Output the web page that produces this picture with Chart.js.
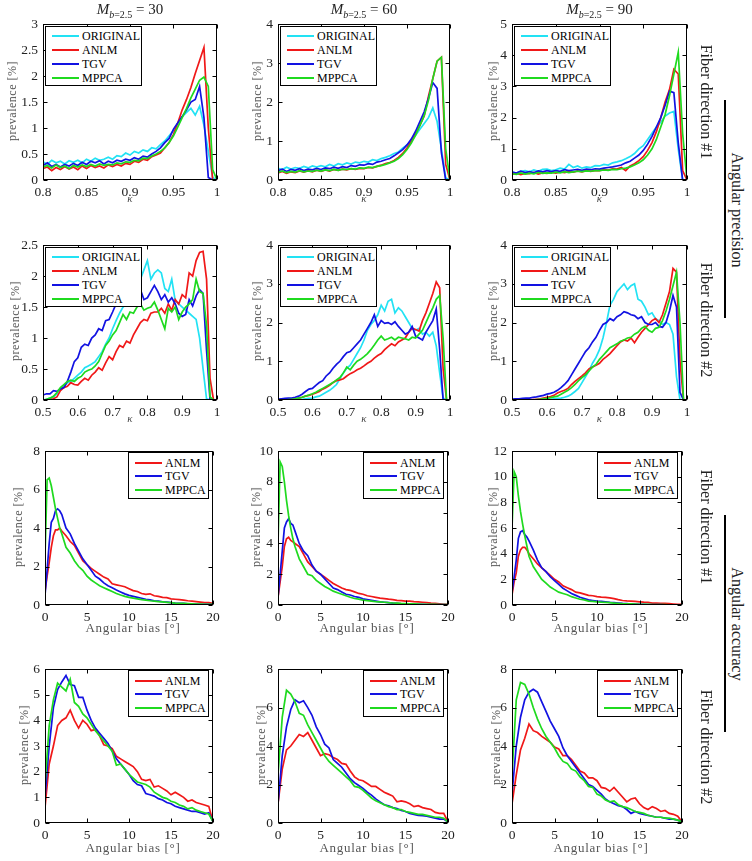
<!DOCTYPE html>
<html><head><meta charset="utf-8">
<script src="https://cdn.jsdelivr.net/npm/chart.js@4.4.1/dist/chart.umd.min.js"></script>
<style>
html,body{margin:0;padding:0;background:#fff;}
body{width:752px;height:861px;position:relative;overflow:hidden;font-family:"Liberation Serif","Times New Roman",serif;}
canvas{position:absolute;}
.t{position:absolute;white-space:nowrap;line-height:1;}
.legend{position:absolute;background:#fff;border:1px solid #000;box-sizing:border-box;font-size:12px;color:#000;}
.legend .row{position:absolute;left:0;height:14px;line-height:14px;white-space:nowrap;width:100%;}
.legend .sw{position:absolute;left:6px;top:6px;width:27px;height:2px;}
.legend .tx{position:absolute;left:36px;top:0;}
.vline{position:absolute;width:1.5px;background:#000;}
</style></head><body>
<script>
// ---------------- DATA ----------------
const SERIES_NAMES = ['ORIGINAL','ANLM','TGV','MPPCA'];
const SERIES_COLORS = ['#22e2f4','#f01818','#1212e2','#1fda1f'];

const KAPPA_FINE = [0.800,0.805,0.810,0.815,0.820,0.825,0.830,0.835,0.840,0.845,0.850,0.855,0.860,0.865,0.870,0.875,0.880,0.885,0.890,0.895,0.900,0.905,0.910,0.915,0.920,0.925,0.930,0.935,0.940,0.945,0.950,0.955,0.960,0.965,0.970,0.975,0.980,0.985,0.990,0.995,1.000];
const KAPPA_WIDE = [0.50,0.51,0.52,0.53,0.54,0.55,0.56,0.57,0.58,0.59,0.60,0.61,0.62,0.63,0.64,0.65,0.66,0.67,0.68,0.69,0.70,0.71,0.72,0.73,0.74,0.75,0.76,0.77,0.78,0.79,0.80,0.81,0.82,0.83,0.84,0.85,0.86,0.87,0.88,0.89,0.90,0.91,0.92,0.93,0.94,0.95,0.96,0.97,0.98,0.99,1.00];
const BIAS_DIR1 = [0,0.25,0.5,0.75,1,1.25,1.5,1.75,2,2.5,3,3.5,4,4.5,5,5.5,6,6.5,7,7.5,8,8.5,9,9.5,10,10.5,11,11.5,12,12.5,13,13.5,14,14.5,15,15.5,16,16.5,17,17.5,18,18.5,19,19.5,20];
const BIAS_DIR2 = [0,0.5,1,1.5,2,2.5,3,3.5,4,4.5,5,5.5,6,6.5,7,7.5,8,8.5,9,9.5,10,10.5,11,11.5,12,12.5,13,13.5,14,14.5,15,15.5,16,16.5,17,17.5,18,18.5,19,19.5,20];

// Row 1: angular precision, fiber direction #1
const P1_ORIGINAL = [0.35,0.30,0.38,0.33,0.36,0.31,0.37,0.34,0.38,0.33,0.40,0.36,0.42,0.38,0.40,0.44,0.40,0.47,0.45,0.52,0.48,0.55,0.52,0.58,0.55,0.62,0.60,0.68,0.75,0.85,0.95,1.10,1.22,1.30,1.38,1.25,1.42,1.05,0.55,0.05,0];
const P1_ANLM = [0.22,0.25,0.18,0.24,0.20,0.26,0.21,0.25,0.20,0.27,0.22,0.28,0.24,0.27,0.23,0.29,0.26,0.30,0.27,0.32,0.30,0.36,0.34,0.40,0.38,0.45,0.48,0.52,0.62,0.72,0.88,1.10,1.35,1.55,1.78,2.05,2.30,2.55,1.00,0,0];
const P1_TGV = [0.28,0.33,0.26,0.30,0.25,0.30,0.27,0.32,0.28,0.34,0.30,0.36,0.33,0.37,0.31,0.36,0.33,0.38,0.36,0.40,0.38,0.43,0.40,0.46,0.44,0.50,0.55,0.62,0.72,0.80,0.98,1.10,1.22,1.35,1.50,1.55,1.80,1.20,0.05,0,0];
const P1_MPPCA = [0.25,0.28,0.23,0.29,0.24,0.27,0.22,0.28,0.25,0.29,0.26,0.30,0.27,0.31,0.28,0.30,0.29,0.33,0.31,0.35,0.34,0.38,0.37,0.42,0.41,0.46,0.50,0.55,0.62,0.72,0.85,1.02,1.20,1.38,1.58,1.75,1.92,1.98,1.80,0.20,0];

const P2_ORIGINAL = [0.30,0.27,0.33,0.28,0.32,0.30,0.35,0.31,0.36,0.33,0.37,0.34,0.40,0.36,0.42,0.39,0.44,0.41,0.46,0.44,0.48,0.46,0.52,0.50,0.55,0.58,0.62,0.68,0.72,0.82,0.90,1.00,1.15,1.30,1.45,1.60,1.85,1.50,0.80,0.05,0];
const P2_ANLM = [0.18,0.22,0.17,0.21,0.19,0.23,0.20,0.24,0.21,0.25,0.22,0.26,0.23,0.27,0.25,0.28,0.26,0.29,0.27,0.30,0.29,0.32,0.31,0.35,0.38,0.42,0.45,0.50,0.58,0.68,0.82,1.00,1.20,1.40,1.65,2.15,2.60,3.05,3.15,0.40,0];
const P2_TGV = [0.24,0.28,0.22,0.27,0.25,0.29,0.24,0.28,0.26,0.30,0.27,0.31,0.29,0.33,0.30,0.34,0.32,0.37,0.35,0.39,0.38,0.42,0.40,0.46,0.48,0.52,0.55,0.62,0.70,0.78,0.90,1.05,1.25,1.50,1.75,2.10,2.50,2.35,0.70,0,0];
const P2_MPPCA = [0.20,0.23,0.19,0.22,0.20,0.24,0.21,0.23,0.22,0.25,0.23,0.26,0.24,0.27,0.25,0.28,0.27,0.29,0.28,0.31,0.30,0.33,0.32,0.35,0.37,0.40,0.44,0.48,0.55,0.65,0.78,0.95,1.15,1.40,1.65,2.05,2.60,3.05,3.15,0.80,0];

const P3_ORIGINAL = [0.25,0.22,0.28,0.30,0.26,0.32,0.28,0.34,0.35,0.30,0.33,0.38,0.35,0.50,0.40,0.45,0.38,0.42,0.40,0.46,0.45,0.50,0.48,0.55,0.58,0.62,0.68,0.75,0.85,1.00,1.10,1.30,1.50,1.70,1.85,2.05,2.15,2.20,1.00,0,0];
const P3_ANLM = [0.18,0.22,0.17,0.21,0.20,0.24,0.19,0.23,0.21,0.25,0.22,0.26,0.24,0.27,0.25,0.29,0.26,0.30,0.28,0.31,0.30,0.33,0.32,0.36,0.35,0.40,0.30,0.45,0.52,0.62,0.75,0.95,1.20,1.55,2.00,2.50,2.90,3.55,3.40,0.30,0];
const P3_TGV = [0.25,0.22,0.28,0.24,0.27,0.23,0.29,0.26,0.30,0.27,0.30,0.28,0.33,0.30,0.32,0.34,0.31,0.35,0.33,0.36,0.35,0.38,0.40,0.42,0.45,0.48,0.55,0.60,0.70,0.80,0.95,1.15,1.40,1.70,2.00,2.40,2.85,2.80,1.20,0,0];
const P3_MPPCA = [0.20,0.18,0.23,0.19,0.22,0.20,0.24,0.21,0.23,0.22,0.25,0.23,0.27,0.24,0.26,0.28,0.27,0.29,0.28,0.30,0.30,0.32,0.31,0.34,0.33,0.36,0.38,0.42,0.48,0.55,0.65,0.80,1.00,1.30,1.70,2.10,2.70,3.40,4.10,1.50,0];

// Row 2: angular precision, fiber direction #2
const P4_ORIGINAL = [0,0.01,0.03,0.05,0.10,0.18,0.22,0.28,0.30,0.35,0.40,0.45,0.52,0.55,0.58,0.62,0.70,0.78,0.90,1.00,1.15,1.28,1.40,1.50,1.55,1.65,1.85,2.00,1.95,2.10,2.25,1.95,2.05,2.10,2.05,1.80,1.75,1.95,1.60,1.55,1.50,1.45,1.40,1.35,1.30,1.00,0.50,0.02,0,0,0];
const P4_ANLM = [0,0,0.01,0.02,0.05,0.15,0.20,0.22,0.28,0.25,0.24,0.30,0.35,0.32,0.40,0.45,0.52,0.48,0.60,0.70,0.65,0.78,0.88,0.85,0.95,0.92,1.05,1.15,1.25,1.30,1.28,1.40,1.42,1.42,1.48,1.40,1.55,1.45,1.62,1.55,1.70,1.65,2.05,2.00,2.25,2.38,2.40,1.95,0.35,0,0];
const P4_TGV = [0.08,0.10,0.10,0.15,0.14,0.18,0.20,0.30,0.45,0.62,0.68,0.85,0.90,0.88,1.00,1.05,1.15,1.12,1.28,1.30,1.42,1.55,1.60,1.75,1.70,1.80,1.85,1.72,1.78,1.62,1.65,1.75,1.85,1.75,1.62,1.70,1.58,1.65,1.55,1.40,1.35,1.38,1.62,1.52,1.68,1.78,1.72,0.80,0,0,0];
const P4_MPPCA = [0,0.01,0.03,0.06,0.12,0.20,0.25,0.30,0.32,0.30,0.35,0.38,0.45,0.48,0.50,0.55,0.62,0.75,0.88,0.95,1.05,1.12,1.25,1.38,1.30,1.42,1.40,1.50,1.55,1.45,1.48,1.50,1.58,1.45,1.30,1.15,1.48,1.42,1.50,1.30,1.42,1.50,1.55,1.62,1.95,1.75,1.72,1.20,0.05,0,0];

const P5_ORIGINAL = [0,0,0,0,0,0.01,0.01,0.02,0.03,0.04,0.05,0.08,0.10,0.15,0.20,0.25,0.32,0.40,0.55,0.70,0.82,0.90,1.05,1.20,1.35,1.55,1.80,1.95,2.05,2.20,2.45,2.30,2.55,2.60,2.25,2.38,2.30,2.15,2.00,1.85,1.80,1.85,1.70,1.75,1.65,1.75,1.40,0.70,0.05,0,0];
const P5_ANLM = [0,0,0,0.01,0.02,0.03,0.05,0.07,0.10,0.12,0.15,0.18,0.22,0.28,0.32,0.38,0.45,0.50,0.52,0.55,0.62,0.68,0.72,0.78,0.82,0.88,0.95,1.00,1.08,1.15,1.20,1.30,1.38,1.45,1.40,1.50,1.55,1.60,1.75,1.85,1.82,1.78,2.05,2.25,2.50,2.75,3.05,2.90,0.80,0,0];
const P5_TGV = [0.02,0.03,0.04,0.05,0.05,0.07,0.10,0.15,0.22,0.28,0.30,0.38,0.45,0.50,0.62,0.70,0.82,0.92,1.00,1.12,1.22,1.25,1.35,1.45,1.55,1.70,1.85,2.00,2.20,1.90,2.05,1.98,2.00,1.95,2.02,1.90,1.80,1.70,1.75,1.90,1.65,1.60,1.55,1.75,1.90,2.05,2.35,1.30,0,0,0];
const P5_MPPCA = [0,0,0,0.01,0.02,0.03,0.05,0.07,0.10,0.13,0.16,0.20,0.25,0.30,0.35,0.40,0.45,0.52,0.58,0.70,0.85,0.78,0.90,1.00,1.05,1.12,1.20,1.30,1.42,1.55,1.65,1.55,1.58,1.62,1.55,1.62,1.60,1.58,1.55,1.62,1.60,1.70,1.80,2.00,2.20,2.38,2.60,2.70,1.60,0,0];

const P6_ORIGINAL = [0,0,0,0,0,0,0,0,0.01,0.01,0.02,0.02,0.03,0.04,0.05,0.07,0.10,0.15,0.22,0.30,0.45,0.60,0.75,0.95,1.10,1.30,1.60,2.00,2.45,2.60,2.80,2.90,3.00,2.85,2.95,3.00,2.60,2.55,2.40,2.20,2.25,2.10,2.05,1.95,2.00,1.95,1.70,0.60,0,0,0];
const P6_ANLM = [0,0,0,0,0,0.01,0.01,0.02,0.03,0.05,0.07,0.09,0.12,0.18,0.22,0.25,0.30,0.40,0.48,0.55,0.62,0.70,0.80,0.85,0.90,0.95,1.05,1.12,1.20,1.30,1.40,1.50,1.55,1.52,1.60,1.48,1.62,1.75,1.85,1.95,2.05,2.10,2.00,2.20,2.50,2.80,3.40,3.30,1.00,0,0];
const P6_TGV = [0.02,0.03,0.03,0.04,0.05,0.05,0.07,0.08,0.10,0.12,0.15,0.17,0.20,0.25,0.32,0.40,0.50,0.65,0.80,0.95,1.10,1.25,1.35,1.50,1.62,1.80,1.95,2.00,2.10,2.05,2.15,2.20,2.28,2.25,2.20,2.18,2.10,2.15,2.00,1.95,1.95,2.00,1.90,1.88,2.00,2.30,2.70,2.40,0.20,0,0];
const P6_MPPCA = [0,0,0,0,0,0,0,0.01,0.02,0.03,0.04,0.06,0.08,0.10,0.15,0.20,0.25,0.32,0.40,0.50,0.58,0.65,0.75,0.85,0.92,1.05,1.15,1.25,1.35,1.40,1.45,1.52,1.55,1.60,1.62,1.70,1.75,1.85,1.90,1.80,1.75,1.85,1.88,2.05,2.30,2.60,2.95,3.30,2.00,0,0];

// Row 3: angular accuracy, fiber direction #1
const P7_ANLM = [0.7,1.5,2.2,3.0,3.6,3.9,3.9,4.0,3.85,3.6,3.3,3.1,2.7,2.3,2.1,1.9,1.75,1.6,1.45,1.35,1.1,1.05,1.0,0.95,0.85,0.75,0.7,0.6,0.55,0.58,0.48,0.45,0.4,0.38,0.32,0.3,0.28,0.25,0.22,0.2,0.18,0.15,0.12,0.12,0.08];
const P7_TGV = [0.5,1.8,3.2,4.3,4.5,4.9,5.0,4.9,4.7,4.0,3.7,3.2,2.8,2.4,2.1,1.8,1.5,1.35,1.15,1.0,0.9,0.78,0.68,0.58,0.5,0.45,0.4,0.35,0.3,0.27,0.22,0.2,0.17,0.15,0.12,0.1,0.09,0.08,0.06,0.05,0.05,0.04,0.03,0.03,0.02];
const P7_MPPCA = [2.5,6.5,6.6,6.2,5.6,5.0,4.5,4.0,3.7,3.0,2.7,2.3,2.0,1.8,1.5,1.3,1.15,1.0,0.9,0.8,0.7,0.6,0.52,0.45,0.4,0.36,0.32,0.28,0.25,0.22,0.2,0.18,0.16,0.14,0.12,0.1,0.09,0.08,0.07,0.06,0.05,0.05,0.04,0.04,0.03];

const P8_ANLM = [0.5,1.5,2.5,3.8,4.3,4.4,4.2,4.1,4.0,3.8,3.3,2.8,2.5,2.2,2.0,1.8,1.6,1.4,1.25,1.1,1.0,0.95,0.85,0.75,0.7,0.6,0.55,0.5,0.45,0.42,0.38,0.35,0.3,0.28,0.25,0.25,0.22,0.2,0.18,0.15,0.12,0.1,0.08,0.05,0.04];
const P8_TGV = [0.5,2.0,3.5,5.0,5.4,5.6,5.3,5.2,4.8,4.0,3.5,3.2,2.6,2.2,2.0,1.7,1.4,1.1,1.0,0.85,0.7,0.65,0.55,0.5,0.4,0.35,0.3,0.25,0.2,0.18,0.15,0.12,0.1,0.08,0.07,0.06,0.05,0.04,0.04,0.03,0.03,0.02,0.02,0.02,0.01];
const P8_MPPCA = [4.0,9.3,9.0,8.0,6.8,5.8,5.0,4.3,3.8,3.0,2.5,2.0,1.9,1.6,1.4,1.2,1.05,0.9,0.8,0.7,0.6,0.5,0.42,0.38,0.32,0.28,0.25,0.22,0.2,0.18,0.15,0.13,0.12,0.1,0.09,0.08,0.07,0.06,0.05,0.05,0.04,0.04,0.03,0.03,0.02];

const P9_ANLM = [0.8,1.8,2.5,3.8,4.3,4.5,4.5,4.3,4.0,3.6,3.2,2.9,2.6,2.3,2.0,1.8,1.5,1.35,1.2,1.0,0.95,0.85,0.75,0.72,0.65,0.62,0.6,0.55,0.5,0.42,0.35,0.32,0.3,0.28,0.25,0.22,0.2,0.15,0.15,0.12,0.12,0.1,0.08,0.06,0.05];
const P9_TGV = [1.0,2.2,3.5,5.2,5.7,5.8,5.5,5.3,5.0,4.3,3.5,2.9,2.6,2.2,1.9,1.6,1.3,1.1,0.9,0.75,0.6,0.5,0.4,0.35,0.3,0.28,0.25,0.2,0.18,0.15,0.12,0.1,0.08,0.07,0.06,0.05,0.04,0.04,0.03,0.03,0.02,0.02,0.02,0.01,0.01];
const P9_MPPCA = [6.0,10.4,10.0,8.5,7.3,6.3,5.4,4.6,3.8,3.0,2.5,2.0,1.7,1.4,1.2,1.0,0.9,0.8,0.65,0.55,0.45,0.4,0.3,0.28,0.25,0.22,0.2,0.18,0.15,0.12,0.1,0.09,0.08,0.07,0.06,0.05,0.05,0.04,0.04,0.03,0.03,0.02,0.02,0.02,0.02];

// Row 4: angular accuracy, fiber direction #2
const P10_ANLM = [0.6,2.3,3.0,3.8,4.0,4.1,4.4,4.0,3.7,4.0,3.85,3.6,3.65,3.4,3.05,3.0,2.9,2.6,2.5,2.4,2.3,2.2,2.0,1.7,1.65,1.7,1.4,1.45,1.35,1.25,1.1,1.2,1.1,1.0,0.85,0.9,0.8,0.75,0.7,0.65,0.05];
const P10_TGV = [1.0,3.0,4.5,5.2,5.5,5.75,5.4,5.35,4.9,4.9,4.4,4.0,3.7,3.5,3.3,3.1,2.8,2.5,2.3,2.1,1.9,1.65,1.5,1.45,1.15,1.1,1.05,0.95,0.9,0.8,0.75,0.65,0.6,0.55,0.5,0.45,0.45,0.4,0.35,0.4,0.05];
const P10_MPPCA = [1.5,3.8,4.8,5.45,5.3,5.15,5.6,4.7,4.55,4.25,4.1,3.85,3.6,3.4,3.2,3.0,2.8,2.25,2.3,2.1,1.9,1.75,1.6,1.55,1.5,1.4,1.2,1.1,1.0,0.95,0.85,0.8,0.7,0.65,0.55,0.6,0.5,0.45,0.4,0.35,0.05];

const P11_ANLM = [1.0,2.8,3.8,4.0,4.3,4.6,4.5,4.7,4.3,3.9,3.5,3.6,3.55,3.4,3.3,3.1,3.05,2.7,2.4,2.25,2.2,2.05,1.9,1.9,1.75,1.6,1.5,1.4,1.1,1.15,1.1,1.0,0.85,0.9,0.8,0.75,0.7,0.55,0.5,0.5,0.05];
const P11_TGV = [1.0,3.5,5.0,5.9,6.4,6.25,6.35,6.0,5.6,5.0,4.6,4.1,3.9,3.3,3.1,2.9,2.6,2.3,2.1,1.95,1.8,1.6,1.45,1.25,1.1,0.95,0.9,0.8,0.75,0.65,0.6,0.5,0.45,0.4,0.38,0.35,0.3,0.25,0.2,0.2,0.05];
const P11_MPPCA = [2.5,5.5,6.9,6.7,6.3,5.7,5.6,5.1,4.7,4.3,3.9,3.5,3.2,3.0,2.8,2.6,2.4,2.2,1.9,1.85,1.7,1.5,1.3,1.15,1.05,0.95,0.85,0.8,0.7,0.7,0.6,0.55,0.5,0.45,0.45,0.4,0.35,0.3,0.3,0.25,0.05];

const P12_ANLM = [1.0,2.5,3.8,4.4,5.15,4.8,4.7,4.5,4.35,4.2,3.95,3.85,3.5,3.5,3.3,3.0,2.7,2.6,2.35,2.35,2.2,1.85,1.8,1.65,1.85,1.6,1.35,1.1,1.25,1.3,1.0,0.8,0.7,0.85,0.75,0.6,0.65,0.5,0.45,0.35,0.05];
const P12_TGV = [1.5,4.0,5.5,6.4,6.8,6.95,6.8,6.3,5.8,5.3,4.9,4.5,3.9,3.5,3.2,2.9,2.6,2.3,2.0,1.9,1.7,1.5,1.25,1.1,1.0,0.9,0.85,0.7,0.5,0.6,0.5,0.45,0.4,0.35,0.3,0.3,0.25,0.2,0.2,0.15,0.05];
const P12_MPPCA = [2.5,6.4,7.3,7.2,6.7,6.0,5.4,4.9,4.5,4.2,3.9,3.5,3.2,3.1,2.8,2.7,2.4,2.2,1.9,1.85,1.5,1.4,1.2,1.1,1.15,0.95,0.85,0.8,0.7,0.6,0.55,0.5,0.4,0.35,0.3,0.3,0.25,0.25,0.2,0.15,0.05];

// Axis settings
const Y_MAX  = [3,4,5, 2.5,4,4, 8,10,12, 6,8,8];
const Y_STEP = [0.5,1,1, 0.5,1,1, 2,2,2, 1,2,2];
const M_VALUES = ['30','60','90'];
const ROW_NOTES = ['Fiber direction #1','Fiber direction #2','Fiber direction #1','Fiber direction #2'];
const GROUP_NOTES = ['Angular precision','Angular accuracy'];

// ---------------- BUILD ----------------
const panels = [
  {x:KAPPA_FINE, xr:[0.8,1,0.05], s:[P1_ORIGINAL,P1_ANLM,P1_TGV,P1_MPPCA]},
  {x:KAPPA_FINE, xr:[0.8,1,0.05], s:[P2_ORIGINAL,P2_ANLM,P2_TGV,P2_MPPCA]},
  {x:KAPPA_FINE, xr:[0.8,1,0.05], s:[P3_ORIGINAL,P3_ANLM,P3_TGV,P3_MPPCA]},
  {x:KAPPA_WIDE, xr:[0.5,1,0.1], s:[P4_ORIGINAL,P4_ANLM,P4_TGV,P4_MPPCA]},
  {x:KAPPA_WIDE, xr:[0.5,1,0.1], s:[P5_ORIGINAL,P5_ANLM,P5_TGV,P5_MPPCA]},
  {x:KAPPA_WIDE, xr:[0.5,1,0.1], s:[P6_ORIGINAL,P6_ANLM,P6_TGV,P6_MPPCA]},
  {x:BIAS_DIR1, xr:[0,20,5], s:[null,P7_ANLM,P7_TGV,P7_MPPCA]},
  {x:BIAS_DIR1, xr:[0,20,5], s:[null,P8_ANLM,P8_TGV,P8_MPPCA]},
  {x:BIAS_DIR1, xr:[0,20,5], s:[null,P9_ANLM,P9_TGV,P9_MPPCA]},
  {x:BIAS_DIR2, xr:[0,20,5], s:[null,P10_ANLM,P10_TGV,P10_MPPCA]},
  {x:BIAS_DIR2, xr:[0,20,5], s:[null,P11_ANLM,P11_TGV,P11_MPPCA]},
  {x:BIAS_DIR2, xr:[0,20,5], s:[null,P12_ANLM,P12_TGV,P12_MPPCA]}
];

// layout (pixels)
const ROW_TOP = [21,242,448,666];
const ROW_BOTTOM = [180,400,605,823];
const COLS = [
  [[43,217],[278,450],[512,687]],
  [[43,217],[278,450],[512,687]],
  [[45,213],[278,448],[512,682]],
  [[45,213],[278,448],[512,682]]
];
const YLABEL_X = [[12,257,493],[15,257,493],[18,256,493],[24,261,496]];

const framePlugin = {
  id:'frame',
  afterDatasetsDraw(chart){
    const {ctx, chartArea:a, scales} = chart;
    const x = scales.x, y = scales.y;
    ctx.save();
    ctx.strokeStyle = '#000';
    ctx.lineWidth = 1;
    const L = Math.round(a.left)+0.5, R = Math.round(a.right)-0.5, T = Math.round(a.top)+0.5, B = Math.round(a.bottom)-0.5;
    ctx.strokeRect(L, T, R-L, B-T);
    const tl = 4;
    ctx.beginPath();
    x.ticks.forEach(t => {
      const px = Math.round(x.getPixelForValue(t.value))+0.5;
      ctx.moveTo(px,B); ctx.lineTo(px,B-tl);
      ctx.moveTo(px,T); ctx.lineTo(px,T+tl);
    });
    y.ticks.forEach(t => {
      const py = Math.round(y.getPixelForValue(t.value))+0.5;
      ctx.moveTo(L,py); ctx.lineTo(L+tl,py);
      ctx.moveTo(R,py); ctx.lineTo(R-tl,py);
    });
    ctx.stroke();
    ctx.restore();
  }
};

function addText(html, cx, cy, style, rot){
  const d = document.createElement('div');
  d.className = 't';
  d.innerHTML = html;
  d.style.cssText += style;
  d.style.left = cx+'px';
  d.style.top = cy+'px';
  d.style.transform = 'translate(-50%,-50%)' + (rot ? ' rotate('+rot+'deg)' : '');
  document.body.appendChild(d);
  return d;
}

const TICK_FONT = {family:'Liberation Serif', size:13.5};
const fmtTick = v => String(Math.round(v*10000)/10000);

panels.forEach((p, i) => {
  const r = Math.floor(i/3), c = i%3;
  const [L,R] = COLS[r][c];
  const T = ROW_TOP[r], B = ROW_BOTTOM[r];
  const padL = 42, padR = 14, padT = 10, padB = 24;
  const w = R-L+padL+padR, h = B-T+padT+padB;
  const cv = document.createElement('canvas');
  cv.width = w; cv.height = h;
  cv.style.left = (L-padL)+'px'; cv.style.top = (T-padT)+'px';
  cv.style.width = w+'px'; cv.style.height = h+'px';
  document.body.appendChild(cv);

  const present = [];
  p.s.forEach((ys,k) => { if (ys) present.push(k); });
  const datasets = present.map((k, idx) => ({
    label: SERIES_NAMES[k],
    data: p.x.map((xv,j) => ({x:xv, y:p.s[k][j]})),
    borderColor: SERIES_COLORS[k],
    backgroundColor: SERIES_COLORS[k],
    borderWidth: 1.7,
    pointRadius: 0,
    tension: 0,
    fill: false,
    order: present.length - idx
  }));

  new Chart(cv, {
    type:'line',
    data:{datasets},
    options:{
      responsive:false, animation:false, events:[],
      layout:{padding:{left:0,right:padR,top:padT,bottom:0}},
      plugins:{legend:{display:false}, tooltip:{enabled:false}},
      scales:{
        x:{type:'linear', min:p.xr[0], max:p.xr[1],
           afterFit:s=>{s.height=padB;},
           grid:{display:false, drawTicks:false}, border:{display:false},
           ticks:{stepSize:p.xr[2], autoSkip:false, maxRotation:0, padding:4, color:'#222', font:TICK_FONT, callback:fmtTick}},
        y:{type:'linear', min:0, max:Y_MAX[i],
           afterFit:s=>{s.width=padL;},
           grid:{display:false, drawTicks:false}, border:{display:false},
           ticks:{stepSize:Y_STEP[i], padding:5, color:'#222', font:TICK_FONT, callback:fmtTick}}
      }
    },
    plugins:[framePlugin]
  });

  // legend
  const lg = document.createElement('div');
  lg.className = 'legend';
  let lx, ly, lw, lh, rowH, first;
  if (r < 2) { lx = L+2; ly = T+5; lw = 97; lh = 60; rowH = 14; first = 1.5; }
  else { lx = R-85; ly = T+4; lw = 81; lh = 47; rowH = 13.5; first = 2.5; }
  lg.style.left = lx+'px'; lg.style.top = ly+'px'; lg.style.width = lw+'px'; lg.style.height = lh+'px';
  present.forEach((k, idx) => {
    const row = document.createElement('div');
    row.className = 'row';
    row.style.top = (first + idx*rowH)+'px';
    row.innerHTML = '<span class="sw" style="background:'+SERIES_COLORS[k]+'"></span><span class="tx">'+SERIES_NAMES[k]+'</span>';
    lg.appendChild(row);
  });
  document.body.appendChild(lg);

  // y label
  addText('prevalence [%]', YLABEL_X[r][c], (T+B)/2, 'font-size:12px;letter-spacing:0.5px;color:#555;', -90);
  // x label
  if (r < 2) addText('<i>κ</i>', (L+R)/2, r===0 ? 198 : 418, 'font-size:11px;color:#444;', 0);
  else addText('Angular bias [°]', (L+R)/2+4, r===2 ? 627 : 847, 'font-size:13px;letter-spacing:0.7px;color:#555;', 0);
  // titles
  if (r === 0) addText('<i>M</i><sub style="font-size:10px"><i>b</i>=2.5</sub> = '+M_VALUES[c], (L+R)/2, 11, 'font-size:15px;color:#222;', 0);
});

// right-side labels
const NOTE_Y = [102,320,527,747];
NOTE_Y.forEach((y,k) => addText(ROW_NOTES[k], 706, y, 'font-size:16px;color:#222;', 90));
addText(GROUP_NOTES[0], 737, 210, 'font-size:16px;color:#222;', 90);
addText(GROUP_NOTES[1], 737, 624, 'font-size:16px;color:#222;', 90);
[[100,318],[515,732]].forEach(([a,b]) => {
  const d = document.createElement('div');
  d.className = 'vline';
  d.style.left = '724px'; d.style.top = a+'px'; d.style.height = (b-a)+'px';
  document.body.appendChild(d);
});
</script>
</body></html>
